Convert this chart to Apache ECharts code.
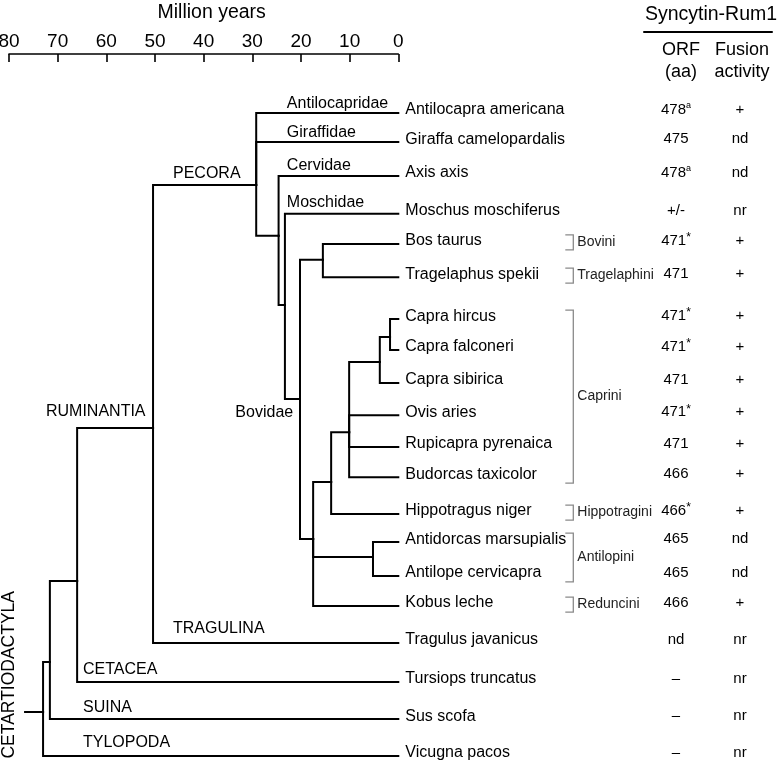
<!DOCTYPE html>
<html><head><meta charset="utf-8">
<script src="https://cdn.jsdelivr.net/npm/echarts@6/dist/echarts.min.js"></script>
<style>html,body{margin:0;padding:0;background:#fff}#c{width:783px;height:764px}</style>
</head><body><div id="c"></div>
<script>
// ================= DATA =================
// time axis (Million years), 80 -> 0, step 10
const timeMin = 0, timeMax = 80, timeStep = 10;

// tips (top to bottom) and their vertical position (row units)
const species = ['Antilocapra americana','Giraffa camelopardalis','Axis axis','Moschus moschiferus','Bos taurus','Tragelaphus spekii','Capra hircus','Capra falconeri','Capra sibirica','Ovis aries','Rupicapra pyrenaica','Budorcas taxicolor','Hippotragus niger','Antidorcas marsupialis','Antilope cervicapra','Kobus leche','Tragulus javanicus','Tursiops truncatus','Sus scofa','Vicugna pacos'];
const speciesRow = [0,0.86,1.86,2.98,3.87,4.85,6.09,7.0,7.98,8.93,9.87,10.76,11.85,12.68,13.68,14.57,15.66,16.81,17.91,19.0];
const speciesParent = ['pecora','pecora','cervoid','moschoid','bovinae','bovinae','capra2','capra2','capra3','caprini','caprini','caprini','caprinae','antilopini','antilopini','antilopinae','ruminantia','cetruminantia','artiofabula','root'];

// Syncytin-Rum1 table columns
const orfAA = ['478^a','475','478^a','+/-','471*','471','471*','471*','471','471*','471','466','466*','465','465','466','nd','–','–','–'];
const fusionActivity = ['+','nd','nd','nr','+','+','+','+','+','+','+','+','+','nd','nd','+','nr','nr','nr','nr'];

// internal nodes: divergence age (Myr), row of the node, parent
const nodeIds    = ['root','artiofabula','cetruminantia','ruminantia','pecora','cervoid','moschoid','bovidae','bovinae','antilopinae','caprinae','caprini','capra3','capra2','antilopini'];
const nodeAge    = [73.0, 71.6, 66.0, 50.4, 29.2, 24.6, 23.3, 20.2, 15.5, 17.5, 13.8, 10.1, 3.8, 1.7, 5.2];
const nodeRow    = [17.70,16.22,13.83,9.31, 2.13, 3.63, 5.67, 8.45, 4.34,12.59,10.90, 9.43,7.36,6.62,13.12];
const nodeParent = [null,'root','artiofabula','cetruminantia','ruminantia','pecora','cervoid','moschoid','bovidae','bovidae','antilopinae','caprinae','caprini','capra3','antilopinae'];
const rootStubAge = 76.7;

// clade labels: text, age where the label sits, row of its branch
const cladeNames = ['Antilocapridae','Giraffidae','Cervidae','Moschidae','PECORA','RUMINANTIA','Bovidae','TRAGULINA','CETACEA','SUINA','TYLOPODA'];
const cladeAge   = [22.9, 22.9, 22.9, 22.9, 46.3, 72.4, 21.6, 46.3, 64.8, 64.8, 64.8];
const cladeRow   = [0, 0.86, 1.86, 2.98, 2.13, 9.31, 8.86, 15.66, 16.81, 17.91, 19.0];
const orderName = 'CETARTIODACTYLA', orderAge = 79.9, orderRow = 16.6;

// tribes (bracketed groups of tips, by tip index)
const tribes    = ['Bovini','Tragelaphini','Caprini','Hippotragini','Antilopini','Reduncini'];
const tribeFrom = [4, 5, 6, 12, 13, 15];
const tribeTo   = [4, 5, 11, 12, 14, 15];

// ================= STYLE =================
const FONT = '"Liberation Sans", Arial, Helvetica, sans-serif';
const INK = '#000';
const cladeDy = [-9,-10,-10,-11,-11,-16,0,-14,-12,-12,-13];

// ================= BUILD =================
const nodeIndex = {}; nodeIds.forEach((id,i)=>nodeIndex[id]=i);
const edges = [];
nodeIds.forEach((id,i)=>{
  const p = nodeParent[i];
  if (p === null) { edges.push([rootStubAge, nodeRow[i], nodeAge[i], nodeRow[i]]); return; }
  const pi = nodeIndex[p];
  edges.push([nodeAge[pi], nodeRow[pi], nodeAge[i], nodeRow[i]]);
});
species.forEach((s,i)=>{
  const pi = nodeIndex[speciesParent[i]];
  edges.push([nodeAge[pi], nodeRow[pi], 0, speciesRow[i]]);
});

function richVal(v){
  if (v.indexOf('^') >= 0) { const [a,b] = v.split('^'); return '{n|'+a+'}{s|'+b+'}'; }
  if (v.endsWith('*') && v.length > 1) return '{n|'+v.slice(0,-1)+'}{t|*}';
  return '{n|'+v+'}';
}
const valRich = {
  n:{fontSize:15, fontFamily:FONT, color:INK, lineHeight:18},
  s:{fontSize:9, fontFamily:FONT, color:INK, verticalAlign:'top', lineHeight:18},
  t:{fontSize:12, fontFamily:FONT, color:INK, verticalAlign:'top', lineHeight:16}
};
const solid = {opacity:1};

const chart = echarts.init(document.getElementById('c'), null, {renderer:'canvas'});
chart.setOption({
  animation:false,
  backgroundColor:'#fff',
  grid:[
    {left:9, right:384.7, top:113, bottom:8, containLabel:false, outerBoundsMode:'none'},
    {left:644, width:128, top:113, bottom:8, containLabel:false, outerBoundsMode:'none'}
  ],
  xAxis:[
    {gridIndex:0, type:'value', min:timeMin, max:timeMax, interval:timeStep, inverse:true, position:'top', offset:59,
     name:'Million years', nameLocation:'middle', nameGap:31, nameMoveOverlap:false,
     nameTextStyle:{fontSize:19.5, fontFamily:FONT, color:INK, padding:[0,0,0,16]},
     axisLine:{show:true, onZero:false, lineStyle:{color:INK, width:1.6}},
     axisTick:{show:true, inside:true, length:8, lineStyle:{color:INK, width:1.6}},
     axisLabel:{fontSize:19, fontFamily:FONT, color:INK, margin:3},
     splitLine:{show:false}},
    {gridIndex:1, type:'category', position:'top', offset:81, boundaryGap:true,
     data:[{value:'ORF\n(aa)', textStyle:{padding:[0,0,0,10]}}, {value:'Fusion\nactivity', textStyle:{padding:[0,0,0,4]}}],
     name:'Syncytin-Rum1', nameLocation:'middle', nameGap:7, nameMoveOverlap:false,
     nameTextStyle:{fontSize:19.5, fontFamily:FONT, color:INK, padding:[0,0,0,6]},
     axisLine:{show:true, onZero:false, lineStyle:{color:INK, width:2}},
     axisTick:{show:false},
     axisLabel:{inside:true, margin:7, fontSize:18, lineHeight:22, fontFamily:FONT, color:INK, interval:0},
     splitLine:{show:false}}
  ],
  yAxis:[
    {gridIndex:0, type:'value', min:0, max:19, inverse:true, show:false},
    {gridIndex:1, type:'value', min:0, max:19, inverse:true, show:false}
  ],
  series:[
    { // tree branches
      type:'custom', xAxisIndex:0, yAxisIndex:0, clip:false, silent:true,
      encode:{x:[0,2], y:[1,3]},
      data:edges,
      renderItem:function(params, api){
        const p0 = api.coord([api.value(0), api.value(1)]);
        const p1 = api.coord([api.value(0), api.value(3)]);
        const p2 = api.coord([api.value(2), api.value(3)]);
        return {type:'polyline', shape:{points:[p0,p1,p2]},
          style:{stroke:'#000', lineWidth:2, fill:null, lineJoin:'miter', lineCap:'square'}};
      }
    },
    { // tip labels
      type:'scatter', xAxisIndex:0, yAxisIndex:0, symbolSize:0, clip:false, silent:true, itemStyle:solid,
      data:species.map((s,i)=>({name:s, value:[0, speciesRow[i]]})),
      label:{show:true, position:'right', distance:7, offset:[0,-3], formatter:'{b}', fontSize:16, fontFamily:FONT, color:INK}
    },
    { // clade labels
      type:'scatter', xAxisIndex:0, yAxisIndex:0, symbolSize:0, clip:false, silent:true, itemStyle:solid,
      data:cladeNames.map((s,i)=>({name:s, value:[cladeAge[i], cladeRow[i]],
        label:{position: s==='Bovidae' ? 'left' : 'right', offset:[0, cladeDy[i]]}})),
      label:{show:true, distance:0, formatter:'{b}', fontSize:16, fontFamily:FONT, color:INK}
    },
    { // order label (rotated)
      type:'scatter', xAxisIndex:0, yAxisIndex:0, symbolSize:0, clip:false, silent:true, itemStyle:solid,
      data:[{name:orderName, value:[orderAge, orderRow]}],
      label:{show:true, position:'inside', rotate:90, formatter:'{b}', fontSize:17.5, fontFamily:FONT, color:INK, textBorderWidth:0}
    },
    { // tribe brackets
      type:'custom', xAxisIndex:0, yAxisIndex:0, clip:false, silent:true,
      encode:{y:[0,1]},
      data:tribes.map((t,i)=>[speciesRow[tribeFrom[i]], speciesRow[tribeTo[i]]]),
      renderItem:function(params, api){
        const x0 = api.coord([0, 0])[0] + 167, x1 = x0 + 8;
        const yT = api.coord([0, api.value(0)])[1] - 9;
        const yB = api.coord([0, api.value(1)])[1] + 6;
        return {type:'group', children:[
          {type:'polyline', shape:{points:[[x0,yT],[x1,yT],[x1,yB],[x0,yB]]}, style:{stroke:'#8a8a8a', lineWidth:1.3, fill:null}},
          {type:'text', style:{text:tribes[params.dataIndex], x:x1+4, y:(yT+yB)/2, verticalAlign:'middle', align:'left',
            fontSize:14, fontFamily:FONT, fill:'#222'}}
        ]};
      }
    },
    { // ORF column
      type:'scatter', xAxisIndex:1, yAxisIndex:1, symbolSize:0, clip:false, silent:true, itemStyle:solid,
      data:orfAA.map((v,i)=>({value:[0, speciesRow[i]]})),
      label:{show:true, position:'inside', offset:[0,-3], textBorderWidth:0, formatter:p=>richVal(orfAA[p.dataIndex]), rich:valRich}
    },
    { // Fusion activity column
      type:'scatter', xAxisIndex:1, yAxisIndex:1, symbolSize:0, clip:false, silent:true, itemStyle:solid,
      data:fusionActivity.map((v,i)=>({value:[1, speciesRow[i]]})),
      label:{show:true, position:'inside', offset:[0,-3], textBorderWidth:0, formatter:p=>fusionActivity[p.dataIndex], fontSize:15, fontFamily:FONT, color:INK}
    }
  ]
});
</script></body></html>
